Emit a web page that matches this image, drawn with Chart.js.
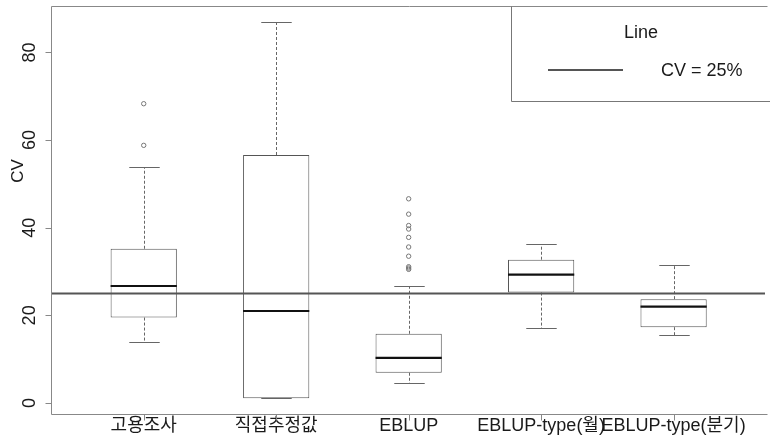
<!DOCTYPE html>
<html>
<head>
<meta charset="utf-8">
<script src="https://cdn.jsdelivr.net/npm/chart.js@4.4.1/dist/chart.umd.min.js"></script>
<style>
  html, body { margin: 0; padding: 0; background: #fff; overflow: hidden; }
  #wrap { width: 770px; height: 440px; }
</style>
</head>
<body>
<div id="wrap"><canvas id="cvChart"></canvas></div>
<script>
// box plot summaries
const categories = ['고용조사', '직접추정값', 'EBLUP', 'EBLUP-type(월)', 'EBLUP-type(분기)'];
const whiskerLow  = [13.9, 1.1, 4.6, 17.2, 15.5];
const q1          = [19.5, 1.1, 6.9, 25.2, 17.3];
const median      = [26.7, 21.0, 10.3, 29.3, 22.0];
const q3          = [35.2, 56.6, 15.8, 32.7, 23.7];
const whiskerHigh = [53.8, 86.9, 26.7, 36.4, 31.4];
const outliers = [
    [68.3, 58.8],
    [],
    [46.6, 43.1, 40.5, 39.7, 37.8, 35.6, 33.5, 31.1, 30.8, 30.5],
    [],
    []
];
const yTicks = [0, 20, 40, 60, 80];
const refValue = 25;
const yTitle = 'CV';
const legendTitle = 'Line';
const legendLabel = 'CV = 25%';

const FONT = '"Liberation Sans", Arial, "Noto Sans CJK KR", sans-serif';
const capWidth = 0.23;   // in x units

const outlierPoints = [];
outliers.forEach((list, i) => {
    list.forEach(v => outlierPoints.push({x: i + 1, y: v}));
});

const crisp = v => Math.round(v) + 0.5;

const boxPlot = {
    id: 'boxPlot',
    beforeDatasetsDraw(chart) {
        const {ctx, scales: {x, y}} = chart;
        ctx.save();
        ctx.strokeStyle = '#666';
        ctx.lineWidth = 1;
        categories.forEach((c, i) => {
            const px = crisp(x.getPixelForValue(i + 1));
            const half = x.getPixelForValue(i + 1 + capWidth / 2) - x.getPixelForValue(i + 1);
            const hi = crisp(y.getPixelForValue(whiskerHigh[i]));
            const lo = crisp(y.getPixelForValue(whiskerLow[i]));
            ctx.setLineDash([3, 2]);
            ctx.beginPath();
            ctx.moveTo(px, y.getPixelForValue(q3[i]));
            ctx.lineTo(px, hi);
            ctx.moveTo(px, y.getPixelForValue(q1[i]));
            ctx.lineTo(px, lo);
            ctx.stroke();
            ctx.setLineDash([]);
            ctx.beginPath();
            ctx.moveTo(px - half, hi);
            ctx.lineTo(px + half, hi);
            ctx.moveTo(px - half, lo);
            ctx.lineTo(px + half, lo);
            ctx.stroke();
        });
        ctx.restore();
    },
    afterDatasetsDraw(chart) {
        const {ctx, chartArea: a, scales: {x, y}} = chart;
        const bars = chart.getDatasetMeta(0).data;
        ctx.save();

        // medians
        ctx.strokeStyle = '#111';
        ctx.lineWidth = 2.2;
        categories.forEach((c, i) => {
            const py = y.getPixelForValue(median[i]);
            ctx.beginPath();
            ctx.moveTo(bars[i].x - bars[i].width / 2, py);
            ctx.lineTo(bars[i].x + bars[i].width / 2, py);
            ctx.stroke();
        });

        // CV = 25% reference line
        const ry = y.getPixelForValue(refValue);
        ctx.strokeStyle = '#555';
        ctx.lineWidth = 2;
        ctx.beginPath();
        ctx.moveTo(a.left, ry);
        ctx.lineTo(a.right, ry);
        ctx.stroke();

        // frame
        ctx.strokeStyle = '#888';
        ctx.lineWidth = 1;
        ctx.beginPath();
        ctx.moveTo(crisp(a.right) + 2, crisp(a.top));
        ctx.lineTo(crisp(a.left), crisp(a.top));
        ctx.lineTo(crisp(a.left), crisp(a.bottom));
        ctx.lineTo(crisp(a.right) + 2, crisp(a.bottom));
        ctx.stroke();

        // tick marks
        ctx.beginPath();
        categories.forEach((c, i) => {
            const px = crisp(x.getPixelForValue(i + 1));
            ctx.moveTo(px, crisp(a.bottom));
            ctx.lineTo(px, crisp(a.bottom) + 6);
        });
        yTicks.forEach(v => {
            const py = crisp(y.getPixelForValue(v));
            ctx.moveTo(crisp(a.left) - 6, py);
            ctx.lineTo(crisp(a.left), py);
        });
        ctx.stroke();

        // y tick labels, rotated as in R
        ctx.fillStyle = '#1a1a1a';
        ctx.textAlign = 'center';
        ctx.textBaseline = 'middle';
        ctx.font = '18px ' + FONT;
        yTicks.forEach(v => {
            ctx.save();
            ctx.translate(30, y.getPixelForValue(v));
            ctx.rotate(-Math.PI / 2);
            ctx.fillText(String(v), 0, 0);
            ctx.restore();
        });

        // y title
        ctx.save();
        ctx.font = '17px ' + FONT;
        ctx.translate(18, 171);
        ctx.rotate(-Math.PI / 2);
        ctx.fillText(yTitle, 0, 0);
        ctx.restore();

        // legend box
        ctx.strokeStyle = '#777';
        ctx.lineWidth = 1;
        ctx.beginPath();
        ctx.moveTo(775, 101.5);
        ctx.lineTo(511.5, 101.5);
        ctx.lineTo(511.5, crisp(a.top));
        ctx.stroke();
        ctx.font = '18px ' + FONT;
        ctx.fillText(legendTitle, 641, 33);
        ctx.strokeStyle = '#555';
        ctx.lineWidth = 2;
        ctx.beginPath();
        ctx.moveTo(548, 70);
        ctx.lineTo(623, 70);
        ctx.stroke();
        ctx.textAlign = 'left';
        ctx.fillText(legendLabel, 661, 71);

        ctx.restore();
    }
};

new Chart(document.getElementById('cvChart'), {
    type: 'bar',
    data: {
        datasets: [{
            label: 'box',
            data: categories.map((c, i) => ({x: i + 1, y: [q1[i], q3[i]]})),
            backgroundColor: '#ffffff',
            borderColor: '#555',
            borderWidth: 1,
            borderSkipped: false,
            barPercentage: 0.5,
            categoryPercentage: 1
        }, {
            type: 'scatter',
            label: 'outliers',
            data: outlierPoints,
            pointStyle: 'circle',
            pointRadius: 2.2,
            borderColor: '#777',
            borderWidth: 1,
            backgroundColor: 'rgba(0,0,0,0)'
        }]
    },
    options: {
        animation: false,
        responsive: true,
        maintainAspectRatio: false,
        devicePixelRatio: 1,
        layout: {padding: {left: 51, top: 6, right: 0, bottom: 2}},
        plugins: {legend: {display: false}, tooltip: {enabled: false}},
        scales: {
            x: {
                type: 'linear',
                offset: false,
                min: 0.3,
                max: 5.69,
                grid: {display: false, drawTicks: false, offset: false},
                border: {display: false},
                afterBuildTicks: s => { s.ticks = categories.map((c, i) => ({value: i + 1})); },
                ticks: {
                    autoSkip: false,
                    maxRotation: 0,
                    padding: 1,
                    color: '#1a1a1a',
                    font: {family: FONT, size: 18},
                    callback: v => categories[v - 1]
                }
            },
            y: {
                type: 'linear',
                min: -2.6,
                max: 90.6,
                display: false
            }
        }
    },
    plugins: [boxPlot]
});
</script>
</body>
</html>
